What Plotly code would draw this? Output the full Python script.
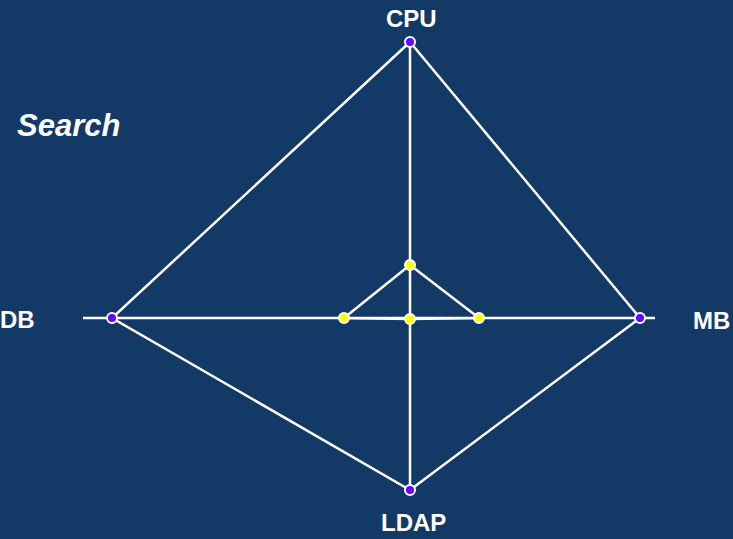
import numpy as np
import plotly.graph_objects as go

# Data
axes_labels = ["CPU", "MB", "LDAP", "DB"]
axis_angles_deg = [90, 0, 270, 180]
outer_values = [276, 230, 172, 298]   # outer (purple) points along each axis
inner_values = [53, 69, 1, 66]        # inner (yellow) points along each axis
axis_extent = [276, 245, 172, 327]    # how far each axis line reaches
title_text = "Search"

W, H = 733, 539
OX, OY = 410, 318   # pixel position of the centre

ang = np.deg2rad(axis_angles_deg)
cosv, sinv = np.round(np.cos(ang), 6), np.round(np.sin(ang), 6)

def pts(vals):
    v = np.asarray(vals, dtype=float)
    return v * cosv, v * sinv

ox, oy = pts(outer_values)
ix, iy = pts(inner_values)
ex, ey = pts(axis_extent)

LINE = dict(color="white", width=2.5)
fig = go.Figure()

# axis lines (CPU-LDAP vertical, DB-MB horizontal)
fig.add_trace(go.Scatter(x=[ex[0], ex[2]], y=[ey[0], ey[2]], mode="lines", line=LINE, hoverinfo="skip"))
fig.add_trace(go.Scatter(x=[ex[3], ex[1]], y=[ey[3], ey[1]], mode="lines", line=LINE, hoverinfo="skip"))

# outer polygon
fig.add_trace(go.Scatter(x=list(ox) + [ox[0]], y=list(oy) + [oy[0]], mode="lines", line=LINE, hoverinfo="skip"))
# inner polygon
fig.add_trace(go.Scatter(x=list(ix) + [ix[0]], y=list(iy) + [iy[0]], mode="lines", line=LINE, hoverinfo="skip"))

# markers
fig.add_trace(go.Scatter(x=ox, y=oy, mode="markers",
                         marker=dict(size=10, color="#6A00FF", line=dict(color="white", width=2)),
                         text=axes_labels, hoverinfo="text"))
fig.add_trace(go.Scatter(x=ix, y=iy, mode="markers",
                         marker=dict(size=10, color="#FFFF00", line=dict(color="white", width=2)),
                         text=axes_labels, hoverinfo="text"))

# axis labels (pixel positions)
label_px = {"CPU": (411, 19), "MB": (711, 321), "LDAP": (413, 522), "DB": (17, 319)}
for name in axes_labels:
    px, py = label_px[name]
    fig.add_annotation(x=px / W, y=1 - py / H, xref="paper", yref="paper",
                       text="<b>%s</b>" % name, showarrow=False,
                       xanchor="center", yanchor="middle",
                       font=dict(family="Liberation Sans, Arial", size=24, color="white"))

fig.add_annotation(x=15 / W, y=1 - 126 / H, xref="paper", yref="paper",
                   text="<b><i>%s</i></b>" % title_text, showarrow=False,
                   xanchor="left", yanchor="middle",
                   font=dict(family="Liberation Sans, Arial", size=31, color="white"))

BG = "#133966"
fig.update_layout(
    width=W, height=H,
    margin=dict(l=0, r=0, t=0, b=0),
    paper_bgcolor=BG, plot_bgcolor=BG,
    showlegend=False,
    xaxis=dict(range=[-OX, W - OX], visible=False, fixedrange=True),
    yaxis=dict(range=[-(H - OY), OY], visible=False, fixedrange=True),
)

fig.write_html("out.html", config={"displayModeBar": False},
               post_script="document.body.style.margin='0';document.body.style.overflow='hidden';document.body.style.background='%s';" % BG)
